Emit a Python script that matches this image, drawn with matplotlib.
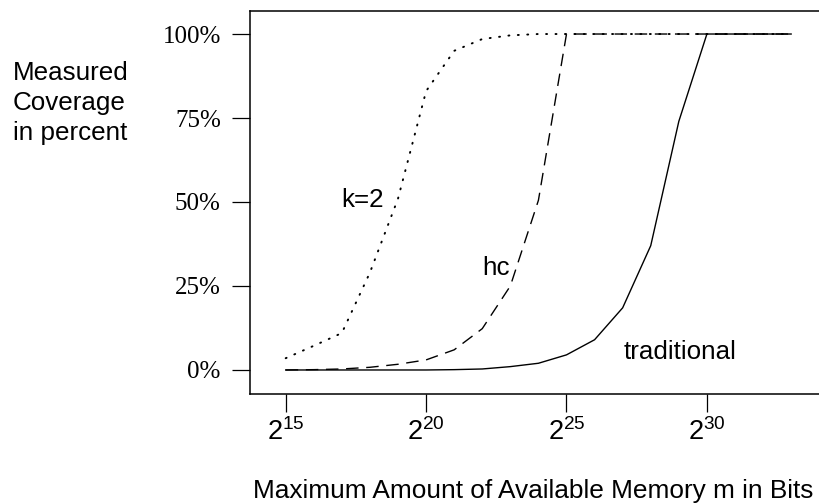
import matplotlib
matplotlib.use("Agg")
import matplotlib.pyplot as plt

plt.rcParams['font.family'] = ['Liberation Sans', 'DejaVu Sans']

# exponents of the memory size (2^x bits)
exponents = list(range(15, 34))
k2 = [3.5, 7.2, 11, 29, 51, 83, 95, 98.5, 99.6, 100, 100, 100, 100, 100, 100, 100, 100, 100, 100]
hc = [0, 0.1, 0.3, 0.8, 1.7, 3, 6, 12.3, 25, 50.5, 100, 100, 100, 100, 100, 100, 100, 100, 100]
traditional = [0, 0, 0, 0, 0, 0, 0.1, 0.3, 1, 2, 4.5, 9, 18.5, 37, 74, 100, 100, 100, 100]

xticks = [15, 20, 25, 30]
xticklabels = [r'$\mathregular{2^{%d}}$' % e for e in xticks]
yticks = [0, 25, 50, 75, 100]
yticklabels = ['0%', '25%', '50%', '75%', '100%']

W, H = 819, 504
fig = plt.figure(figsize=(W / 100, H / 100), dpi=100)
left, right, top, bottom = 250, 827, 10.5, 393.5
ax = fig.add_axes([left / W, 1 - bottom / H, (right - left) / W, (bottom - top) / H])

ax.plot(exponents, k2, color='black', lw=1.4, linestyle=(0, (0.5, 4.35)), dash_capstyle='round')
ax.plot(exponents, hc, color='black', lw=1.0, linestyle=(0, (9.0, 5.5)))
ax.plot(exponents, traditional, color='black', lw=1.0, linestyle='-')

ax.set_xlim(13.729, 34.277)
ax.set_ylim(-7, 107)

ax.set_xticks(xticks)
ax.set_xticklabels(xticklabels, fontsize=19.5)
ax.set_yticks(yticks)
ax.set_yticklabels(yticklabels, fontsize=18, family='Liberation Serif')
ax.tick_params(axis='both', direction='out', length=13, width=0.9, color='black')
ax.tick_params(axis='y', pad=8)
ax.tick_params(axis='x', pad=4.5)
for s in ax.spines.values():
    s.set_linewidth(1.1)
    s.set_color('black')

ax.text(17.75, 51.2, 'k=2', fontsize=18.7, ha='center', va='center_baseline')
ax.text(22.49, 31.0, 'hc', fontsize=18.7, ha='center', va='center_baseline')
ax.text(29.04, 6.0, 'traditional', fontsize=18.7, ha='center', va='center_baseline')

for txt, yb in [('Measured', 80), ('Coverage', 110), ('in percent', 140)]:
    fig.text(13 / W, 1 - yb / H, txt, fontsize=18.7, ha='left', va='baseline')

fig.text(253 / W, 1 - 498 / H, 'Maximum Amount of Available Memory m in Bits',
         fontsize=18.95, ha='left', va='baseline')

fig.savefig('out.png', dpi=100)
